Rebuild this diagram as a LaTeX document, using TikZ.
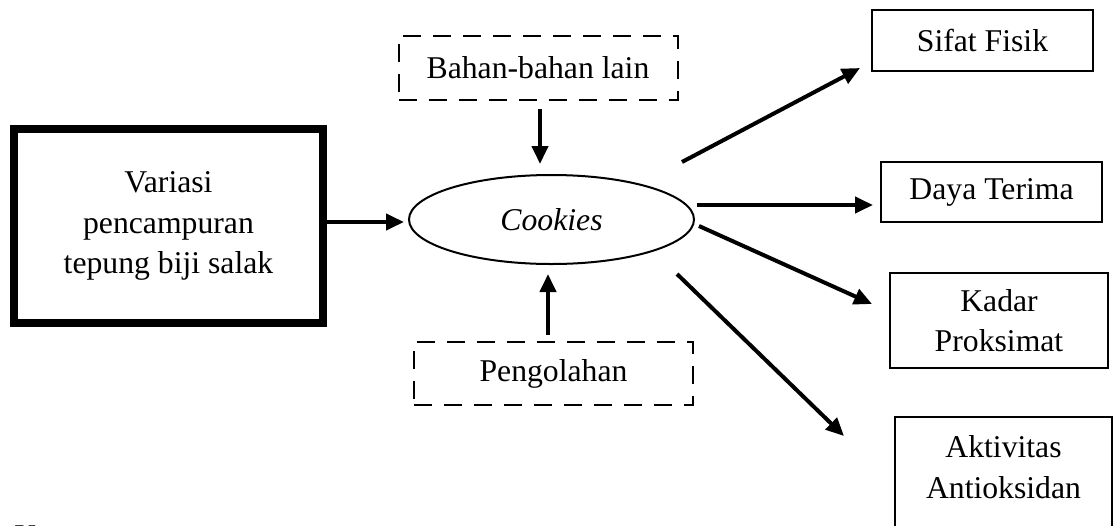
\documentclass[tikz,border=0pt]{standalone}
\usepackage{fontspec}
\setmainfont{Liberation Serif}
\usetikzlibrary{arrows.meta,shapes.geometric}

\tikzset{
  txt/.style={font=\fontsize{15.85pt}{20.3pt}\selectfont, align=center, inner sep=0pt},
  plainbox/.style={txt, draw, line width=1pt, rectangle},
  thickbox/.style={txt, draw, line width=4pt, rectangle},
  dashbox/.style={txt, draw, line width=1pt, rectangle, dash pattern=on 9pt off 6pt},
  oval/.style={txt, draw, line width=1pt, ellipse, inner sep=0pt},
  arr/.style={line width=2pt, -{Triangle[length=9pt,width=8pt]}},
}

\begin{document}
\begin{tikzpicture}[x=0.5pt, y=-0.5pt]
  \useasboundingbox (0,0) rectangle (1118,525);
  \clip (0,0) rectangle (1118,525);

  % input, product and process boxes
  \node[thickbox, minimum width=154.5pt, minimum height=97pt] (var) at (168.5,226)
    {Variasi\\pencampuran\\tepung biji salak};
  \node[oval, minimum width=142.5pt, minimum height=44.5pt] (ell) at (551.5,219.5)
    {\itshape Cookies};
  \node[dashbox, minimum width=139.5pt, minimum height=32pt] (bahan) at (538,68)
    {Bahan-bahan lain};
  \node[dashbox, minimum width=139.5pt, minimum height=31.5pt] (peng) at (553.5,373.5)
    {Pengolahan};

  % output boxes
  \node[plainbox, minimum width=110.5pt, minimum height=30.5pt] (sifat) at (982.5,40.5)
    {Sifat Fisik};
  \node[plainbox, minimum width=110.5pt, minimum height=30pt] (daya) at (991.5,192)
    {Daya Terima};
  \node[plainbox, minimum width=109pt, minimum height=47.5pt] (kadar) at (999,320.5)
    {Kadar\\Proksimat};
  \node[plainbox, minimum width=108.5pt, minimum height=62pt, anchor=north] (akt) at (1003.5,416) {};
  \node[txt] (akttxt) at (1003.5,467) {Aktivitas\\Antioksidan};

  \node[txt, anchor=base west] (ket) at (14,546) {K};

  % connector end points
  \coordinate (s1) at (682,162);  \coordinate (t1) at (860,68);
  \coordinate (s2) at (697,205);  \coordinate (t2) at (873,205);
  \coordinate (s3) at (699,226);  \coordinate (t3) at (872,304);
  \coordinate (s4) at (677,274);  \coordinate (t4) at (844,436);

  % arrows into the product
  \draw[arr, shorten >=2pt] (var.east |- 0,222) -- (ell.west |- 0,222);
  \draw[arr, shorten <=4pt, shorten >=5pt] (bahan.south -| 540,0) -- (ell.north -| 540,0);
  \draw[arr, shorten <=3pt, shorten >=4.5pt] (peng.north -| 548,0) -- (ell.south -| 548,0);

  % arrows to the measured outputs
  \draw[arr] (s1) -- (t1);
  \draw[arr] (s2) -- (t2);
  \draw[arr] (s3) -- (t3);
  \draw[arr] (s4) -- (t4);
\end{tikzpicture}
\end{document}
